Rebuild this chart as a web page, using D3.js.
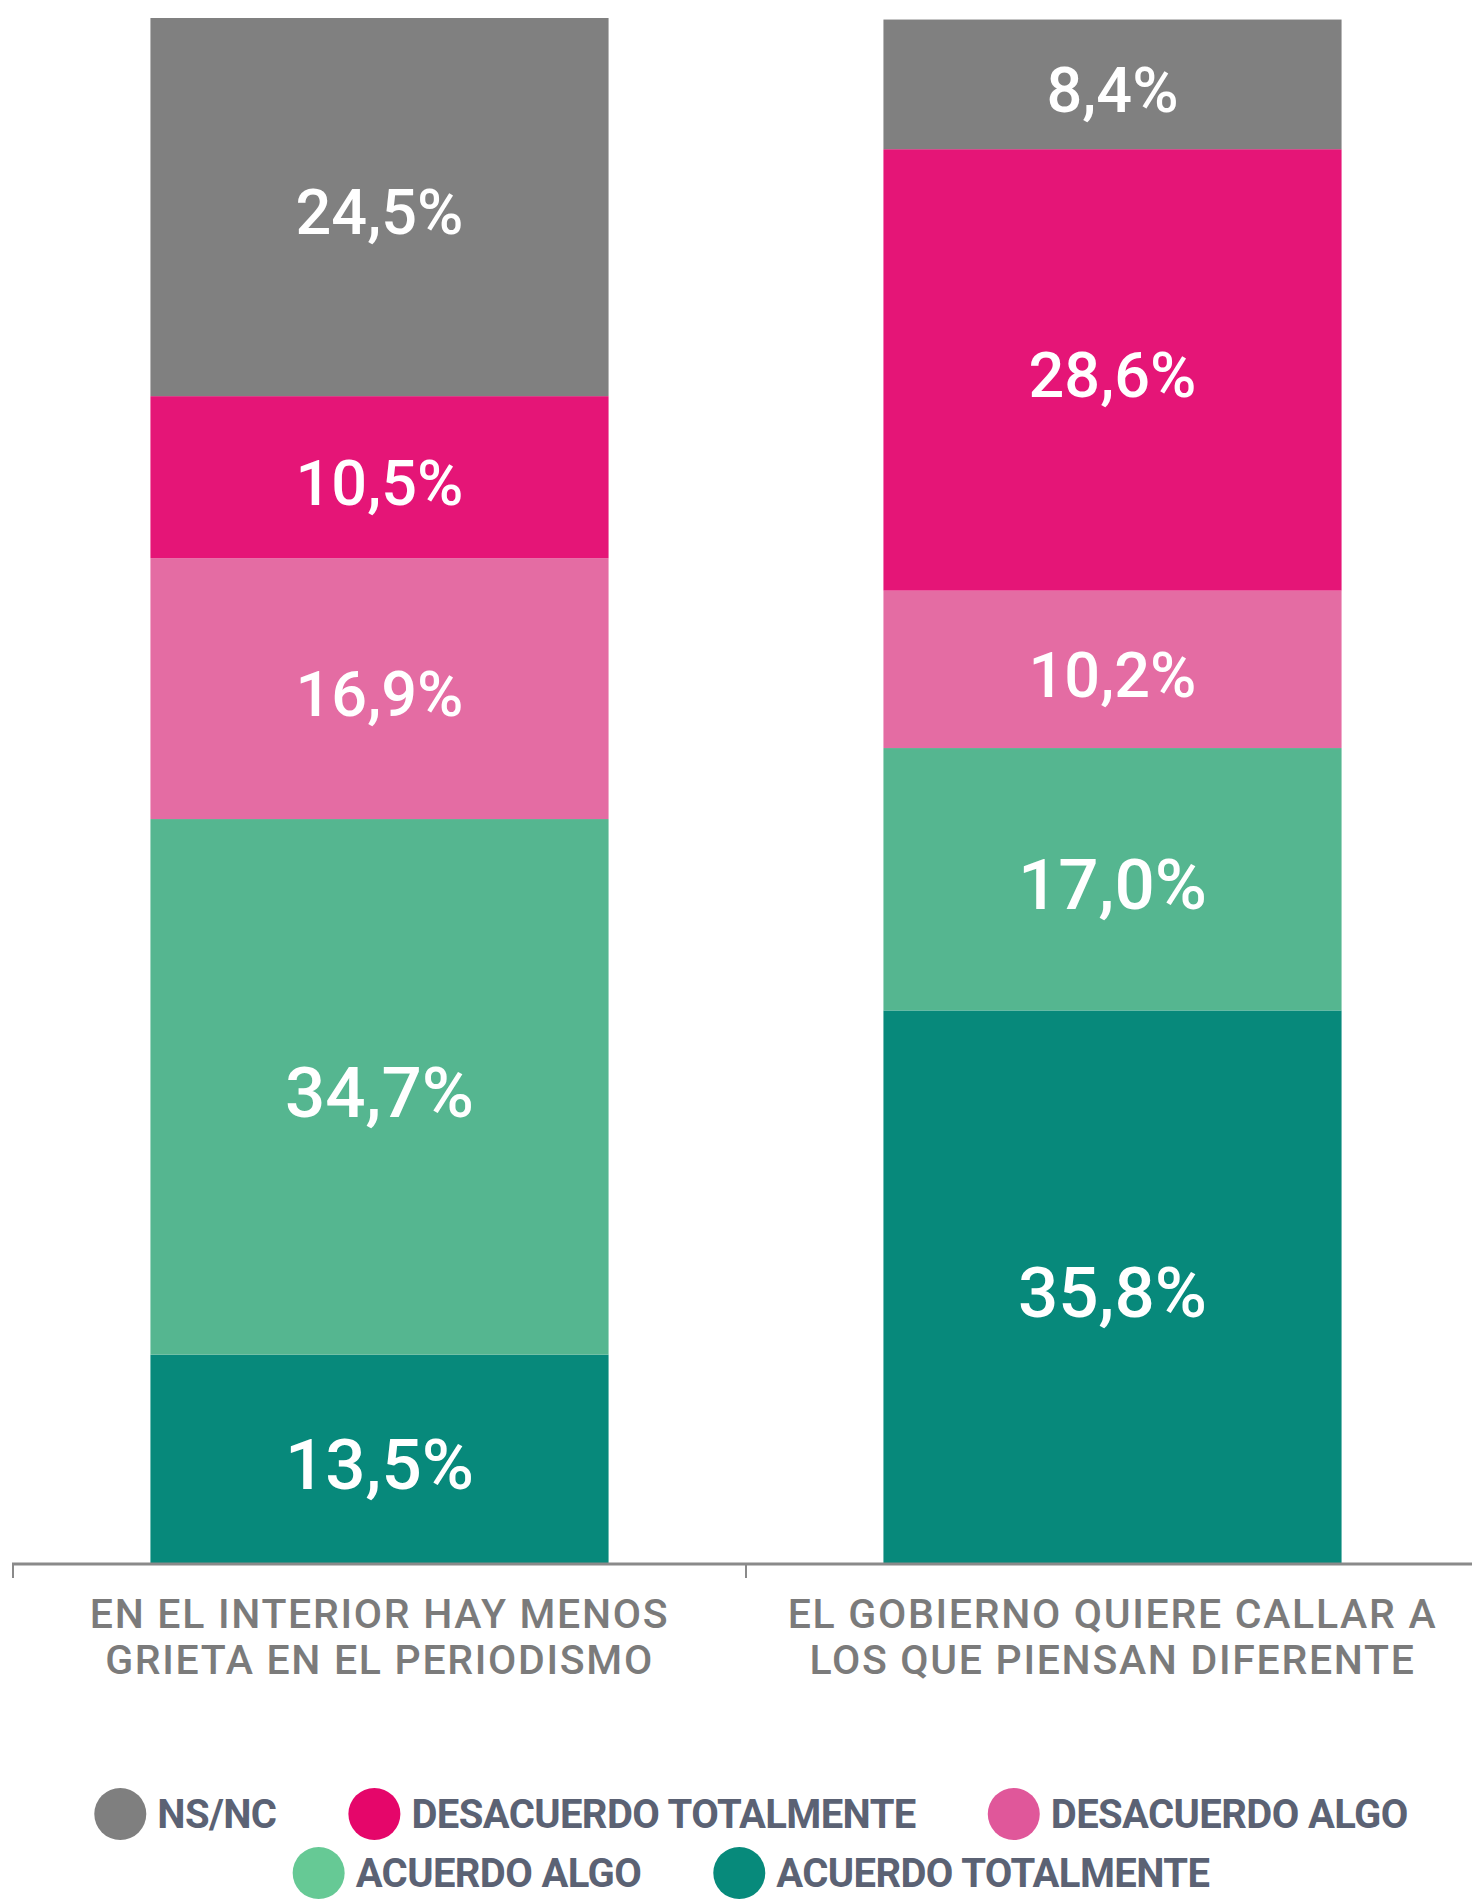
<!DOCTYPE html>
<html>
<head>
<meta charset="utf-8">
<script src="https://cdn.jsdelivr.net/npm/d3@7"></script>
<style>
  html, body { margin: 0; padding: 0; background: #ffffff; }
  svg { display: block; }
</style>
</head>
<body>
<svg id="chart" width="1472" height="1899"></svg>
<script>
// ---- data ----
const categories = [
  ["EN EL INTERIOR HAY MENOS", "GRIETA EN EL PERIODISMO"],
  ["EL GOBIERNO QUIERE CALLAR A", "LOS QUE PIENSAN DIFERENTE"]
];
const seriesNames = ["ACUERDO TOTALMENTE", "ACUERDO ALGO", "DESACUERDO ALGO", "DESACUERDO TOTALMENTE", "NS/NC"];
const acuerdoTotalmente = [13.5, 35.8];
const acuerdoAlgo = [34.7, 17.0];
const desacuerdoAlgo = [16.9, 10.2];
const desacuerdoTotalmente = [10.5, 28.6];
const nsnc = [24.5, 8.4];
const legendOrder = ["NS/NC", "DESACUERDO TOTALMENTE", "DESACUERDO ALGO", "ACUERDO ALGO", "ACUERDO TOTALMENTE"];
const legendRows = [3, 2];

// ---- styles ----
const barColors = {
  "ACUERDO TOTALMENTE": "#07897b",
  "ACUERDO ALGO": "#55b690",
  "DESACUERDO ALGO": "#e46ca3",
  "DESACUERDO TOTALMENTE": "#e51577",
  "NS/NC": "#808080"
};
const legendColors = {
  "ACUERDO TOTALMENTE": "#078a7b",
  "ACUERDO ALGO": "#66c995",
  "DESACUERDO ALGO": "#e0579a",
  "DESACUERDO TOTALMENTE": "#e5066a",
  "NS/NC": "#7f7f7f"
};
const bigLabelSeries = new Set(["ACUERDO TOTALMENTE", "ACUERDO ALGO"]);

const seriesValues = [acuerdoTotalmente, acuerdoAlgo, desacuerdoAlgo, desacuerdoTotalmente, nsnc];
const table = categories.map((c, i) => {
  const row = { key: i };
  seriesNames.forEach((s, j) => row[s] = seriesValues[j][i]);
  return row;
});

const svg = d3.select("#chart");
const FONT = "Roboto, 'Open Sans', sans-serif";

const x = d3.scaleBand()
  .domain(categories.map((c, i) => i))
  .range([13, 1479])
  .paddingInner(0.375)
  .paddingOuter(0.1875);

const totals = table.map(r => d3.sum(seriesNames, s => r[s]));
const y = d3.scaleLinear().domain([0, d3.max(totals)]).range([1563, 18]);

const stack = d3.stack().keys(seriesNames);
const stacked = stack(table);

const g = svg.append("g");
const layers = g.selectAll("g.layer").data(stacked).join("g")
  .attr("class", "layer")
  .attr("fill", d => barColors[d.key]);

layers.selectAll("rect").data(d => d.map(p => ({ p, key: d.key }))).join("rect")
  .attr("x", d => x(d.p.data.key))
  .attr("width", x.bandwidth())
  .attr("y", d => y(d.p[1]))
  .attr("height", d => y(d.p[0]) - y(d.p[1]));

const fmt = v => d3.format(".1f")(v).replace(".", ",") + "%";
const labelSize = key => bigLabelSeries.has(key) ? 71 : 63;

layers.selectAll("text").data(d => d.map(p => ({ p, key: d.key }))).join("text")
  .attr("x", d => x(d.p.data.key) + x.bandwidth() / 2)
  .attr("y", d => (y(d.p[0]) + y(d.p[1])) / 2 + 0.355 * labelSize(d.key) + 5)
  .attr("text-anchor", "middle")
  .attr("fill", "#ffffff")
  .attr("font-family", FONT)
  .attr("font-weight", 500)
  .attr("font-size", d => labelSize(d.key))
  .text(d => fmt(d.p[1] - d.p[0]));

// ---- axis ----
const axisY = 1564;
const axis = svg.append("g");
axis.append("line")
  .attr("x1", 12).attr("x2", 1472)
  .attr("y1", axisY).attr("y2", axisY)
  .attr("stroke", "#8a8a8a").attr("stroke-width", 3);
axis.selectAll("line.tick").data(x.domain()).join("line")
  .attr("class", "tick")
  .attr("x1", k => x.range()[0] + k * x.step())
  .attr("x2", k => x.range()[0] + k * x.step())
  .attr("y1", axisY).attr("y2", axisY + 14)
  .attr("stroke", "#8a8a8a").attr("stroke-width", 2);

const catLabels = axis.selectAll("text.cat").data(categories).join("text")
  .attr("class", "cat")
  .attr("x", (c, i) => x(i) + x.bandwidth() / 2)
  .attr("y", 1628)
  .attr("text-anchor", "middle")
  .attr("fill", "#7b7b7b")
  .attr("font-family", FONT)
  .attr("font-weight", 500)
  .attr("font-size", 41)
  .attr("letter-spacing", 1.7);
catLabels.selectAll("tspan").data(c => c).join("tspan")
  .attr("x", function () { return this.parentNode.getAttribute("x"); })
  .attr("dy", (d, i) => i === 0 ? 0 : 46)
  .text(d => d);

// ---- legend ----
const legend = svg.append("g");
const r = 26, textGap = 11, itemGap = 72;
const rowCenters = [1814, 1873];
let idx = 0;
legendRows.forEach((count, ri) => {
  const names = legendOrder.slice(idx, idx + count);
  idx += count;
  const row = legend.append("g");
  const items = row.selectAll("g").data(names).join("g");
  items.append("circle").attr("r", r).attr("cy", rowCenters[ri]).attr("fill", n => legendColors[n]);
  items.append("text")
    .attr("y", rowCenters[ri] + 0.355 * 40)
    .attr("fill", "#5b6274")
    .attr("font-family", FONT)
    .attr("font-weight", 700)
    .attr("font-size", 40)
    .attr("letter-spacing", -0.6)
    .text(n => n);
  const widths = [];
  items.each(function () {
    widths.push(2 * r + textGap + d3.select(this).select("text").node().getComputedTextLength());
  });
  const total = d3.sum(widths) + itemGap * (names.length - 1);
  let cx = 751 - total / 2;
  items.each(function (n, i) {
    const it = d3.select(this);
    it.select("circle").attr("cx", cx + r);
    it.select("text").attr("x", cx + 2 * r + textGap);
    cx += widths[i] + itemGap;
  });
});
</script>
</body>
</html>
